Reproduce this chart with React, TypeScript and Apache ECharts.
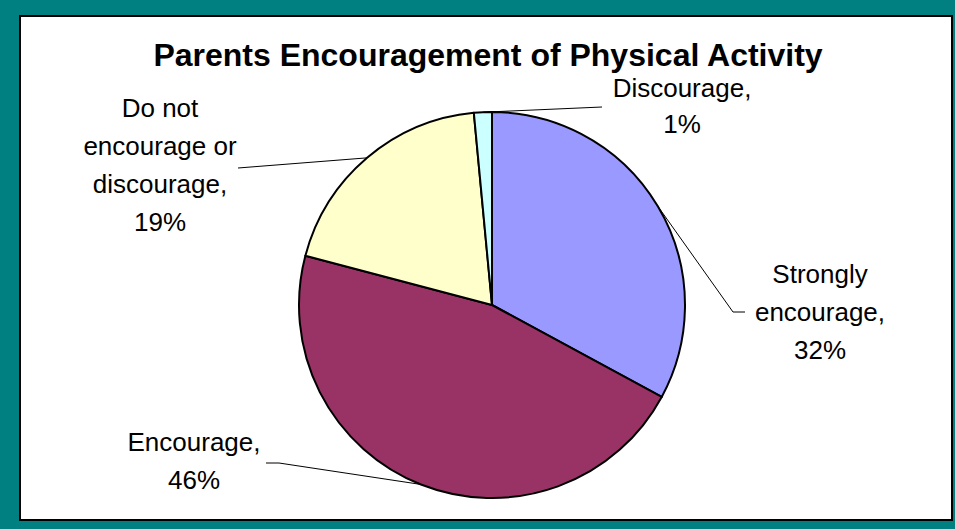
import React, { useEffect, useRef } from "react";
import * as echarts from "echarts";

const titleText = "Parents Encouragement of Physical Activity";
const categories = ["Strongly encourage", "Encourage", "Do not encourage or discourage", "Discourage"];
const wrappedNames = ["Strongly\nencourage,", "Encourage,", "Do not\nencourage or\ndiscourage,", "Discourage,"];
const values = [32.9, 46.2, 19.4, 1.5];
const colors = ["#9999FF", "#993366", "#FFFFCC", "#CCFFFF"];

// label centres, line heights and leader-line end points (layout only)
const labelPos = [
  { x: 820, y: 312, lh: 38, line: [[733, 312], [745, 312]] },
  { x: 194, y: 461, lh: 38, line: [[279, 463], [266, 463]] },
  { x: 160, y: 165, lh: 38, line: [[238, 168], [238, 168]] },
  { x: 682, y: 106, lh: 36, line: [[602, 107], [602, 107]] },
];

export default function App() {
  const ref = useRef<HTMLDivElement>(null);
  useEffect(() => {
    const chart = echarts.init(ref.current!, null, { renderer: "svg" });
    chart.setOption({
      animation: false,
      backgroundColor: "#008080",
      graphic: [
        {
          type: "rect",
          z: -10,
          shape: { x: 20, y: 16, width: 932, height: 504 },
          style: { fill: "#ffffff", stroke: "#000000", lineWidth: 2 },
        },
      ],
      title: {
        text: titleText,
        left: 488,
        top: 41,
        padding: 0,
        textAlign: "center",
        textStyle: { fontFamily: "Liberation Sans, Arial", fontWeight: "bold", fontSize: 32, lineHeight: 28, color: "#000" },
      },
      series: [
        {
          type: "pie",
          center: [492, 305],
          radius: 193,
          startAngle: 90,
          clockwise: true,
          data: categories.map((c, i) => ({
            name: c,
            value: values[i],
            itemStyle: { color: colors[i] },
            label: { lineHeight: labelPos[i].lh },
          })),
          itemStyle: { borderColor: "#000", borderWidth: 2 },
          emphasis: { disabled: true },
          label: {
            show: true,
            position: "outside",
            formatter: (p: any) => `${wrappedNames[p.dataIndex]}\n${Math.floor(p.value)}%`,
            fontFamily: "Liberation Sans, Arial",
            fontSize: 26,
            lineHeight: 38,
            color: "#000",
            align: "center",
          },
          labelLine: { show: true, lineStyle: { color: "#000", width: 1 } },
          labelLayout: (params: any) => {
            const lp = labelPos[params.dataIndex];
            const start = params.labelLinePoints ? params.labelLinePoints[0] : lp.line[0];
            return {
              x: lp.x,
              y: lp.y,
              align: "center",
              verticalAlign: "middle",
              labelLinePoints: [start, lp.line[0], lp.line[1]],
            };
          },
        },
      ],
    });
    return () => chart.dispose();
  }, []);
  return <div ref={ref} style={{ position: "fixed", left: 0, top: 0, width: 955, height: 529 }} />;
}
